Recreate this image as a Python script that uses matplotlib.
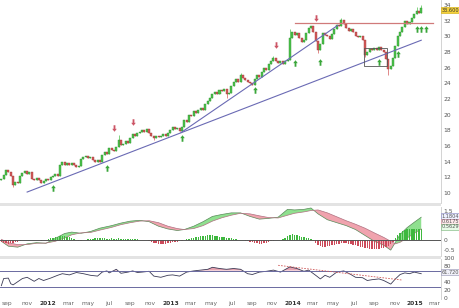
import numpy as np
import pandas as pd
import matplotlib
matplotlib.use('Agg')
import matplotlib.pyplot as plt
import matplotlib.dates as mdates
import matplotlib.transforms as mtrans
from matplotlib.path import Path
from matplotlib.patches import Rectangle

# weekly closes, first week starting 2011-08-15
closes = [
    11.8, 12.3, 12.9, 12.6, 12.2, 11.0, 11.4, 11.2, 12.2, 12.5,
    12.8, 12.4, 12.6, 11.8, 11.6, 11.9, 11.6, 11.2, 11.5, 11.8,
    11.6, 12.0, 12.1, 12.4, 12.2, 13.5, 13.9, 13.6, 13.8, 13.5,
    13.8, 13.5, 13.3, 13.4, 14.3, 14.6, 14.7, 14.4, 14.6, 14.2,
    14.0, 14.2, 14.0, 14.8, 15.2, 15.0, 15.7, 15.5, 15.4, 15.8,
    16.8, 16.1, 16.3, 16.6, 16.4, 17.0, 17.5, 17.2, 17.6, 17.8,
    18.0, 17.8, 18.2, 17.7, 17.3, 17.0, 17.3, 17.1, 17.3, 17.5,
    17.2, 17.6, 18.0, 18.4, 18.1, 18.3, 17.9, 18.4, 19.3, 19.1,
    20.0, 19.8, 20.4, 20.2, 20.6, 20.8, 20.6, 21.4, 21.7, 22.1,
    22.6, 22.9, 22.6, 23.2, 23.0, 23.3, 22.6, 22.8, 23.7, 24.2,
    24.5, 24.2, 25.0, 24.7, 24.4, 24.2, 24.0, 23.8, 24.5, 25.0,
    24.8, 25.5, 25.9, 25.7, 26.4, 26.8, 27.2, 26.9, 26.6, 26.9,
    26.5, 26.9, 27.0, 29.8, 30.5, 30.2, 30.4, 29.8, 29.3, 29.5,
    30.4, 31.0, 31.3, 30.6, 29.4, 28.3, 29.0, 30.4, 30.2, 30.0,
    29.7, 30.3, 30.9, 31.5, 31.3, 32.1, 31.6, 31.0, 30.7, 30.9,
    30.5, 30.1, 29.9, 30.1, 29.5, 27.6, 28.0, 28.4, 28.2, 28.5,
    28.3, 28.6, 28.3, 28.0, 27.1, 25.8, 26.2, 27.2, 28.8, 30.0,
    30.5, 31.2, 31.9, 31.6, 31.8, 32.4, 32.9, 33.2, 33.0, 33.6,
]
first_open = 11.6
# notable wicks (week index -> price)
wick_highs = {50: 17.4, 102: 25.3, 116: 27.5, 123: 30.9, 145: 32.3, 177: 33.7, 179: 34.0}
wick_lows = {5: 10.7, 65: 16.8, 96: 22.1, 135: 27.9, 155: 27.3, 165: 25.1}

# MACD (sampled at week indices)
macd_weeks = [0, 3, 7, 11, 15, 19, 23, 27, 30, 34, 38, 42, 47, 51, 55, 59, 63, 67, 71, 75,
              78, 82, 86, 90, 94, 98, 102, 106, 110, 114, 118, 122, 125, 129, 132, 135, 139, 143, 147, 151,
              155, 159, 163, 166, 168, 170, 173, 176, 179]
macd_line = [-0.05, -0.30, -0.35, -0.18, -0.12, -0.15, 0.10, 0.35, 0.42, 0.36,
             0.45, 0.62, 0.75, 0.88, 0.98, 1.02, 0.95, 0.72, 0.58, 0.50,
             0.55, 0.72, 0.95, 1.22, 1.32, 1.40, 1.40, 1.22, 1.08, 1.12,
             1.18, 1.58, 1.55, 1.58, 1.65, 1.35, 1.05, 0.90, 0.75, 0.55,
             0.25, -0.05, -0.25, -0.50, -0.10, 0.30, 0.65, 0.92, 1.18]
signal_line = [0.05, -0.12, -0.22, -0.22, -0.15, -0.14, -0.05, 0.12, 0.28, 0.38,
               0.40, 0.52, 0.66, 0.80, 0.90, 0.98, 1.00, 0.90, 0.72, 0.60,
               0.55, 0.60, 0.75, 0.98, 1.15, 1.28, 1.38, 1.35, 1.25, 1.16,
               1.14, 1.28, 1.38, 1.45, 1.52, 1.55, 1.40, 1.20, 1.00, 0.82,
               0.62, 0.38, 0.15, -0.05, -0.18, -0.10, 0.12, 0.35, 0.58]
# weekly histogram
macd_hist = [
    -0.10, -0.14, -0.16, -0.18, -0.15, -0.12, -0.10, -0.08, -0.05,
    0.02, 0.03, 0.04, 0.03, 0.02, 0.03, 0.02, 0.00, -0.01, 0.00,
    0.03, 0.06, 0.10, 0.14, 0.16, 0.18, 0.20, 0.22, 0.20, 0.18, 0.15, 0.12,
    0.06, 0.02, -0.02, -0.03, 0.00, 0.03, 0.05, 0.06,
    0.08, 0.10, 0.10, 0.11, 0.12, 0.10, 0.08, 0.09, 0.10, 0.09, 0.08, 0.10,
    0.09, 0.08, 0.08, 0.09, 0.08, 0.07, 0.06, 0.05, 0.04, 0.03, 0.02, 0.00,
    -0.04, -0.08, -0.12, -0.16, -0.18, -0.20, -0.19, -0.17, -0.15, -0.13, -0.11, -0.10,
    -0.08, -0.05, -0.02, 0.01,
    0.05, 0.08, 0.10, 0.12, 0.15, 0.18, 0.20, 0.22, 0.24, 0.25, 0.26, 0.25, 0.23,
    0.20, 0.18, 0.17, 0.15, 0.13, 0.12, 0.10, 0.08, 0.06, 0.04, 0.02, 0.00, -0.02,
    -0.05, -0.08, -0.11, -0.14, -0.16, -0.18, -0.17, -0.15, -0.12, -0.09, -0.06, -0.03, 0.00, 0.02,
    0.04, 0.06, 0.10,
    0.22, 0.28, 0.30, 0.28, 0.25, 0.22, 0.18, 0.15, 0.12, 0.10,
    0.05, -0.05, -0.15, -0.25, -0.30, -0.33, -0.32, -0.30, -0.28, -0.25, -0.22, -0.20, -0.18, -0.15,
    -0.14, -0.15, -0.17, -0.19, -0.22, -0.25, -0.28, -0.32, -0.36, -0.38, -0.40,
    -0.42, -0.44, -0.45, -0.44, -0.42, -0.40, -0.38, -0.36, -0.30, -0.20, -0.08,
    0.10, 0.25, 0.38, 0.48, 0.55, 0.58, 0.60, 0.58, 0.57, 0.58, 0.60, 0.58,
]

# RSI (sampled at week indices)
rsi_weeks = [0, 1, 3, 4, 5, 7, 9, 11, 14, 16, 18, 21, 24, 26, 29, 32, 35, 38, 41, 43,
             45, 46, 49, 51, 54, 56, 58, 60, 63, 65, 68, 71, 73, 76, 79, 82, 85, 88, 90, 93,
             96, 99, 102, 105, 107, 110, 113, 116, 119, 123, 126, 129, 131, 134, 136, 138, 140, 143, 146, 149,
             151, 154, 156, 158, 161, 163, 166, 168, 170, 172, 174, 176, 179]
rsi_vals = [32, 50, 51, 37, 34, 42, 50, 53, 43, 50, 45, 51, 58, 62, 59, 65, 62, 58, 56, 66,
            69, 64, 73, 63, 66, 69, 65, 66, 68, 56, 53, 58, 59, 56, 66, 69, 71, 73, 78, 75,
            73, 75, 73, 62, 60, 66, 68, 71, 66, 79, 75, 68, 71, 58, 49, 58, 53, 66, 69, 60,
            53, 52, 45, 47, 49, 45, 36, 49, 60, 64, 62, 66, 62]

# drawings on the price panel (week index, price)
up_arrow_weeks = [22, 45, 77, 108, 125, 136, 161, 169, 177, 179, 181]
up_arrow_prices = [10.6, 13.2, 17.0, 23.1, 26.6, 26.7, 26.7, 27.7, 30.9, 30.9, 30.9]
down_arrow_weeks = [48, 56, 117, 134]
down_arrow_prices = [18.3, 19.1, 28.9, 32.3]
long_trend = ([11, 179], [10.1, 29.5])
steep_trend = ([76.6, 143.4], [17.7, 31.4])
resistance = ([125, 184], [31.7, 31.7])
range_box = (154.5, 164.3, 26.2, 28.5)
rsi_trend = ([118, 171], [83, 46])

start = pd.Timestamp('2011-08-15')
def wk(i):
    return start + pd.to_timedelta(np.asarray(i, dtype=float) * 7, unit='D')

n = len(closes)
dates = wk(np.arange(n))
opens = [first_open] + closes[:-1]
highs = [wick_highs.get(i, max(o, c)) for i, (o, c) in enumerate(zip(opens, closes))]
lows = [wick_lows.get(i, min(o, c)) for i, (o, c) in enumerate(zip(opens, closes))]

GREEN = '#4cc34c'
RED = '#d45a5a'
W, H = 460, 308
fig = plt.figure(figsize=(4.6, 3.08), dpi=100)
def axes_px(top, bottom):
    return fig.add_axes([0, 1 - bottom / H, 441 / W, (bottom - top) / H])

ax = axes_px(0, 203)
axm = axes_px(207, 256)
axr = axes_px(258.5, 298.5)

x0, x1 = pd.Timestamp('2011-08-11'), pd.Timestamp('2015-03-19')
for a in (ax, axm, axr):
    a.set_xlim(x0, x1)
    a.yaxis.tick_right()
    a.tick_params(axis='y', length=0, pad=2, labelsize=4.3, labelcolor='#555555')
    a.tick_params(axis='x', length=0)
    for s in ('top', 'left', 'bottom'):
        a.spines[s].set_visible(False)
    a.spines['right'].set_color('#cccccc')
    a.spines['right'].set_linewidth(0.6)
    a.set_xticklabels([])

# candles
up = [c >= o for o, c in zip(opens, closes)]
cols = [GREEN if u else RED for u in up]
ax.vlines(dates, lows, highs, colors=cols, linewidth=0.5, zorder=2)
body_bottom = [min(o, c) for o, c in zip(opens, closes)]
body_h = [max(abs(c - o), 0.08) for o, c in zip(opens, closes)]
ax.bar(dates, body_h, bottom=body_bottom, width=6, color=cols,
       edgecolor=['#2f8f2f' if u else '#a03a3a' for u in up], linewidth=0.3, zorder=3)

ax.plot(wk(long_trend[0]), long_trend[1], color='#6a6ab4', lw=0.8, zorder=4)
ax.plot(wk(steep_trend[0]), steep_trend[1], color='#6a6ab4', lw=0.8, zorder=4)
ax.plot(wk(resistance[0]), resistance[1], color='#d07a7a', lw=0.9, zorder=4)
bx0, bx1, by0, by1 = range_box
ax.add_patch(Rectangle((mdates.date2num(wk(bx0)), by0),
                       mdates.date2num(wk(bx1)) - mdates.date2num(wk(bx0)), by1 - by0,
                       fill=False, edgecolor='#555555', lw=0.6, zorder=4))

arrow_up = Path([(0, 1), (-0.7, 0.1), (-0.28, 0.1), (-0.28, -1), (0.28, -1), (0.28, 0.1), (0.7, 0.1), (0, 1)],
                [Path.MOVETO] + [Path.LINETO] * 6 + [Path.CLOSEPOLY])
arrow_dn = Path([(x, -y) for x, y in arrow_up.vertices], arrow_up.codes)
ax.scatter(wk(up_arrow_weeks), up_arrow_prices, marker=arrow_up, s=22, color='#3aa63a', zorder=5, linewidths=0)
ax.scatter(wk(down_arrow_weeks), down_arrow_prices, marker=arrow_dn, s=22, color='#cc5566', zorder=5, linewidths=0)

ax.set_ylim(8.7, 34.64)
ax.set_yticks(range(10, 35, 2))
tr = mtrans.blended_transform_factory(ax.transAxes, ax.transData)
ax.text(1.002, 33.3, '33.600', transform=tr, fontsize=3.6, color='#333333', va='center', ha='left',
        bbox=dict(boxstyle='square,pad=0.1', fc='#f5d23c', ec='#d0a800', lw=0.4))

# MACD panel
mdt = wk(macd_weeks)
ml = np.array(macd_line)
sl = np.array(signal_line)
axm.fill_between(mdt, ml, sl, where=ml >= sl, interpolate=True, color='#8fe08f', lw=0, zorder=1)
axm.fill_between(mdt, ml, sl, where=ml < sl, interpolate=True, color='#f0a3ae', lw=0, zorder=1)
axm.plot(mdt, ml, color='#5a8a5a', lw=0.5, zorder=2)
axm.plot(mdt, sl, color='#b07080', lw=0.5, zorder=2)
hc = ['#3fb83f' if h >= 0 else '#cc4a5a' for h in macd_hist]
axm.bar(dates, macd_hist, width=4.2, color=hc, zorder=3, lw=0)
axm.axhline(0, color='#555555', lw=0.7, zorder=4)
axm.set_ylim(-0.8, 1.7)
axm.set_yticks([-0.5, 0, 1.5])
axm.set_yticklabels(['-0.5', '0', '1.5'])
trm = mtrans.blended_transform_factory(axm.transAxes, axm.transData)
for yv, txt, fc, ec in [(1.22, '1.1804', '#eef0ff', '#8080c0'),
                         (0.95, '0.6175', '#fde8ea', '#d08090'),
                         (0.68, '0.5629', '#e8fbe8', '#70b070')]:
    axm.text(1.002, yv, txt, transform=trm, fontsize=3.6, color='#555555', va='center', ha='left',
             bbox=dict(boxstyle='square,pad=0.1', fc=fc, ec=ec, lw=0.4))

# RSI panel
rdt = wk(rsi_weeks)
rv = np.array(rsi_vals, dtype=float)
axr.fill_between(rdt, rv, 70, where=rv > 70, interpolate=True, color='#e7a3b0', lw=0)
axr.plot(rdt, rv, color='#3a3a55', lw=0.6)
axr.axhline(70, color='#6a6aa0', lw=0.7)
axr.axhline(30, color='#6a6aa0', lw=0.7)
axr.plot(wk(rsi_trend[0]), rsi_trend[1], color='#d05a5a', lw=0.6, ls=(0, (2, 1.5)))
axr.set_ylim(0, 100)
axr.set_yticks([0, 20, 40, 80, 100])
trr = mtrans.blended_transform_factory(axr.transAxes, axr.transData)
axr.text(1.002, 66, '61.720', transform=trr, fontsize=3.6, color='#555555', va='center', ha='left',
         bbox=dict(boxstyle='square,pad=0.1', fc='#f0f0f8', ec='#9090b0', lw=0.4))

# month ticks
ticks = pd.date_range('2011-09-01', '2015-03-01', freq='2MS')
axr.set_xticks(ticks)
axr.set_xticklabels([str(t.year) if t.month == 1 else t.strftime('%b').lower() for t in ticks])
axr.tick_params(axis='x', labelsize=4.3, pad=1.5, labelcolor='#666666')
for lbl, t in zip(axr.get_xticklabels(), ticks):
    if t.month == 1:
        lbl.set_fontweight('bold')
        lbl.set_color('#333333')

# panel separators
for y0 in (203, 255.5):
    fig.add_artist(Rectangle((0, 1 - (y0 + 3) / H), 441 / W, 3 / H, transform=fig.transFigure,
                             color='#e3e3e3', lw=0))

fig.savefig('out.png', dpi=100)
